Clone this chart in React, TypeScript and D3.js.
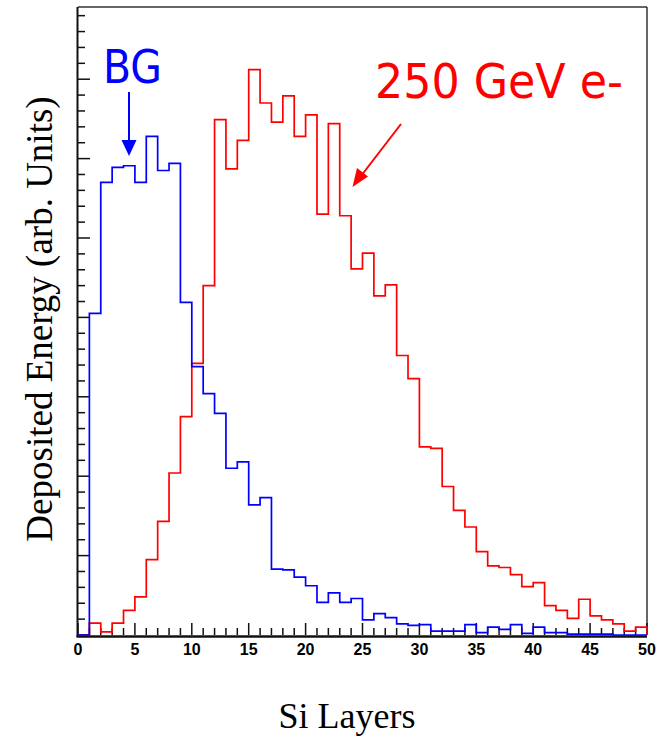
import React from "react";
import * as d3 from "d3";

// Bin counts (arb. units) for Si layers 0..49 (bin i spans [i, i+1))
const bgValues: number[] = [
  0, 4.05, 5.7, 5.89, 5.91, 5.7, 6.28, 5.85, 5.94, 4.19,
  3.38, 3.04, 2.79, 2.1, 2.18, 1.64, 1.73, 0.83, 0.82, 0.73,
  0.62, 0.41, 0.53, 0.41, 0.46, 0.19, 0.27, 0.22, 0.14, 0.12,
  0.13, 0.05, 0.05, 0.05, 0.13, 0.03, 0.1, 0.07, 0.13, 0.02,
  0.1, 0.03, 0.03, 0.01, 0.01, 0.01, 0.01, 0, 0, 0,
];
const electronValues: number[] = [
  0, 0.15, 0.04, 0.15, 0.31, 0.48, 0.95, 1.43, 2.04, 2.75,
  3.42, 4.4, 6.49, 5.87, 6.23, 7.12, 6.7, 6.46, 6.79, 6.28,
  6.55, 5.3, 6.44, 5.28, 4.61, 4.81, 4.27, 4.41, 3.52, 3.23,
  2.37, 2.35, 1.87, 1.57, 1.36, 1.05, 0.87, 0.85, 0.76, 0.61,
  0.66, 0.37, 0.31, 0.21, 0.45, 0.24, 0.19, 0.14, 0.05, 0.1,
];
const xTickLabels: string[] = ["0", "5", "10", "15", "20", "25", "30", "35", "40", "45", "50"];
const xTitle = "Si Layers";
const yTitle = "Deposited Energy (arb. Units)";
const bgLabel = "BG";
const electronLabel = "250 GeV e-";

const W = 667;
const H = 740;
const L = 78;
const R = 647;
const T = 7;
const B = 635;

export default function App() {
  const x = d3.scaleLinear().domain([0, 50]).range([L, R]);
  const y = d3.scaleLinear().domain([0, (B - T) / 79.4]).range([B, T]);

  const histPath = (vals: number[]) => {
    const pts: [number, number][] = [[0, 0]];
    vals.forEach((v, i) => pts.push([i, v]));
    pts.push([vals.length, vals[vals.length - 1]]);
    pts.push([vals.length, 0]);
    return d3
      .line<[number, number]>()
      .x((d) => x(d[0]))
      .y((d) => y(d[1]))
      .curve(d3.curveStepAfter)(pts) as string;
  };

  const xMinor = d3.range(0, 51, 1);
  const yMax = y.domain()[1];
  const yMinor = d3.range(0, yMax, 0.2);

  return (
    <svg
      width={W}
      height={H}
      style={{ position: "absolute", left: 0, top: 0, background: "#fff" }}
    >
      <rect x={0} y={0} width={W} height={H} fill="#fff" />
      {/* frame */}
      <line x1={L} y1={T} x2={R} y2={T} stroke="#333" strokeWidth={1.5} />
      <line x1={R} y1={T} x2={R} y2={B} stroke="#333" strokeWidth={1.5} />
      <line x1={L - 0.5} y1={T} x2={L - 0.5} y2={B + 2} stroke="#111" strokeWidth={2} />
      <line x1={L - 1.5} y1={B + 1.5} x2={R} y2={B + 1.5} stroke="#111" strokeWidth={2.5} />

      {/* y ticks */}
      {yMinor.map((v, i) => {
        const major = i % 5 === 0;
        return (
          <line
            key={"yt" + i}
            x1={L}
            x2={L + (major ? 12 : 7)}
            y1={y(v)}
            y2={y(v)}
            stroke="#111"
            strokeWidth={1.5}
          />
        );
      })}
      {/* x ticks */}
      {xMinor.map((v) => {
        const major = v % 5 === 0;
        return (
          <line
            key={"xt" + v}
            x1={x(v)}
            x2={x(v)}
            y1={B}
            y2={B - (major ? 12 : 7)}
            stroke="#111"
            strokeWidth={1.5}
          />
        );
      })}
      {xTickLabels.map((t, i) => (
        <text
          key={"xl" + i}
          x={x(+t)}
          y={655}
          textAnchor="middle"
          fontFamily="Liberation Sans, Arial, sans-serif"
          fontWeight="bold"
          fontSize={16}
          fill="#000"
        >
          {t}
        </text>
      ))}

      {/* histograms */}
      <path d={histPath(electronValues)} fill="none" stroke="#ff0000" strokeWidth={1.7} />
      <path d={histPath(bgValues)} fill="none" stroke="#0000ff" strokeWidth={1.7} />

      {/* axis titles */}
      <text
        x={347}
        y={728}
        textAnchor="middle"
        fontFamily="Liberation Serif, Times New Roman, serif"
        fontSize={36}
        fill="#000"
      >
        {xTitle}
      </text>
      <text
        transform="translate(52,319) rotate(-90)"
        textAnchor="middle"
        fontFamily="Liberation Serif, Times New Roman, serif"
        fontSize={37}
        fill="#000"
      >
        {yTitle}
      </text>

      {/* annotations */}
      <text
        x={103}
        y={83}
        fontFamily="DejaVu Sans, sans-serif"
        fontSize={47}
        textLength={59}
        lengthAdjust="spacingAndGlyphs"
        fill="#0000ff"
      >
        {bgLabel}
      </text>
      <line x1={129} y1={92} x2={129} y2={142} stroke="#0000ff" strokeWidth={2} />
      <path d="M121.5,140 L136.5,140 L129,156 Z" fill="#0000ff" />

      <text
        x={375}
        y={98}
        fontFamily="DejaVu Sans, sans-serif"
        fontSize={48}
        textLength={248}
        lengthAdjust="spacingAndGlyphs"
        fill="#ff0000"
      >
        {electronLabel}
      </text>
      <line x1={401} y1={124} x2={361} y2={176} stroke="#ff0000" strokeWidth={2} />
      <path d="M352.5,187 L357,168 L368,176.5 Z" fill="#ff0000" />
    </svg>
  );
}
